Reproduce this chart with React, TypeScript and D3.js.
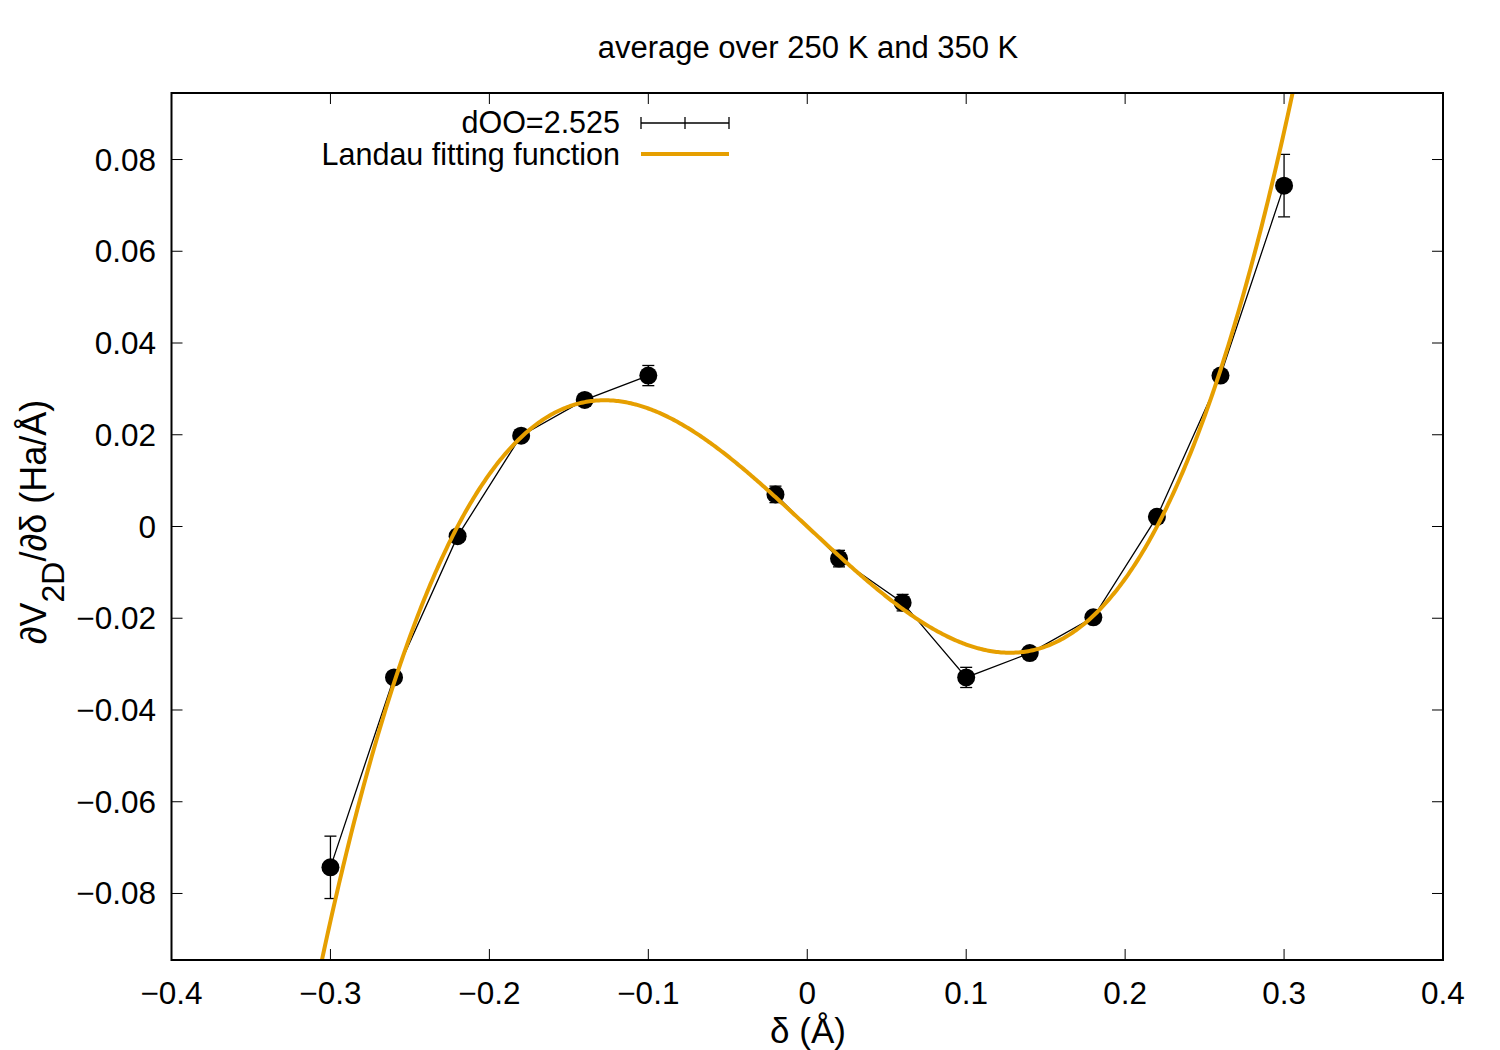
import React from "react";
import * as d3 from "d3";

const deltas = [-0.3, -0.26, -0.22, -0.18, -0.14, -0.1, -0.02, 0.02, 0.06, 0.1, 0.14, 0.18, 0.22, 0.26, 0.3];
const dVdd = [-0.0743, -0.0329, -0.0021, 0.0198, 0.0276, 0.0329, 0.007, -0.007, -0.0166, -0.0329, -0.0276, -0.0198, 0.0021, 0.0329, 0.0743];
const errs = [0.0068, 0.001, 0.001, 0.001, 0.001, 0.0022, 0.0018, 0.0018, 0.0018, 0.0022, 0.001, 0.001, 0.001, 0.001, 0.0068];
// segment index: data line is broken between -0.1 and -0.02 (missing -0.06 row)
const segment = [0, 0, 0, 0, 0, 0, 1, 1, 1, 1, 1, 1, 1, 1, 1];
// Landau fit: f(d) = A d + B d^3 + C d^5
const fitA = -0.323;
const fitB = 6.55;
const fitC = 2.5;
const xTicks = [-0.4, -0.3, -0.2, -0.1, 0, 0.1, 0.2, 0.3, 0.4];
const yTicks = [-0.08, -0.06, -0.04, -0.02, 0, 0.02, 0.04, 0.06, 0.08];
const titleText = "average over 250 K and 350 K";
const seriesLabel = "dOO=2.525";
const fitLabel = "Landau fitting function";

const W = 1500, H = 1050;
const L = 171.5, R = 1443, T = 93, B = 960;
const FONT = "'Liberation Sans', Arial, sans-serif";
const ORANGE = "#e69f00";

const fmt = (v: number) => {
  if (Math.abs(v) < 1e-12) return "0";
  const s = d3.format(".2~f")(Math.abs(v));
  return (v < 0 ? "\u2212" : "") + s;
};

export default function App() {
  const x = d3.scaleLinear().domain([-0.4, 0.4]).range([L, R]);
  const y = d3.scaleLinear().domain([-0.0945, 0.0945]).range([B, T]);
  const pts = deltas.map((d, i) => ({ d, v: dVdd[i], e: errs[i], s: segment[i] }));
  const lineGen = d3.line<{ d: number; v: number }>().x((p) => x(p.d)).y((p) => y(p.v));
  const segIds = Array.from(new Set(segment));
  const fit = (d: number) => fitA * d + fitB * d ** 3 + fitC * d ** 5;
  const samples = d3.range(-0.4, 0.4001, 0.001);
  const fitPath = d3.line<number>().x((d) => x(d)).y((d) => y(fit(d)))(samples) || "";
  const tick = 11;
  const fs = 31.5;
  const lfs = 31;
  const legFs = 30.5;
  return (
    <svg width={W} height={H} style={{ position: "absolute", left: 0, top: 0, background: "#fff" }} fontFamily={FONT}>
      <defs>
        <clipPath id="plotclip">
          <rect x={L} y={T} width={R - L} height={B - T} />
        </clipPath>
      </defs>
      <rect x={0} y={0} width={W} height={H} fill="#fff" />
      <text x={808} y={58} textAnchor="middle" fontSize={lfs}>{titleText}</text>
      {xTicks.map((t) => (
        <g key={"x" + t}>
          <line x1={x(t)} x2={x(t)} y1={B} y2={B - tick} stroke="#000" strokeWidth={1} />
          <line x1={x(t)} x2={x(t)} y1={T} y2={T + tick} stroke="#000" strokeWidth={1} />
          <text x={x(t)} y={1004} textAnchor="middle" fontSize={fs}>{fmt(t)}</text>
        </g>
      ))}
      {yTicks.map((t) => (
        <g key={"y" + t}>
          <line x1={L} x2={L + tick} y1={y(t)} y2={y(t)} stroke="#000" strokeWidth={1} />
          <line x1={R} x2={R - tick} y1={y(t)} y2={y(t)} stroke="#000" strokeWidth={1} />
          <text x={156} y={y(t) + 11} textAnchor="end" fontSize={fs}>{fmt(t)}</text>
        </g>
      ))}
      <g clipPath="url(#plotclip)">
        {segIds.map((sid) => (
          <path key={"seg" + sid} d={lineGen(pts.filter((p) => p.s === sid)) || ""} fill="none" stroke="#000" strokeWidth={1.3} />
        ))}
        {pts.map((p, i) => (
          <g key={i} stroke="#000" strokeWidth={1.3}>
            <line x1={x(p.d)} x2={x(p.d)} y1={y(p.v - p.e)} y2={y(p.v + p.e)} />
            <line x1={x(p.d) - 6} x2={x(p.d) + 6} y1={y(p.v - p.e)} y2={y(p.v - p.e)} />
            <line x1={x(p.d) - 6} x2={x(p.d) + 6} y1={y(p.v + p.e)} y2={y(p.v + p.e)} />
            <circle cx={x(p.d)} cy={y(p.v)} r={9} fill="#000" stroke="none" />
          </g>
        ))}
        <path d={fitPath} fill="none" stroke={ORANGE} strokeWidth={4} />
      </g>
      <text x={620} y={133} textAnchor="end" fontSize={legFs}>{seriesLabel}</text>
      <g stroke="#000" strokeWidth={1.3}>
        <line x1={641} x2={729} y1={123} y2={123} />
        <line x1={641} x2={641} y1={117} y2={129} />
        <line x1={729} x2={729} y1={117} y2={129} />
        <line x1={685} x2={685} y1={117} y2={129} />
      </g>
      <text x={620} y={165} textAnchor="end" fontSize={legFs}>{fitLabel}</text>
      <line x1={641} x2={729} y1={154} y2={154} stroke={ORANGE} strokeWidth={4} />
      <rect x={L} y={T} width={R - L} height={B - T} fill="none" stroke="#000" strokeWidth={2} />
      <text x={808} y={1043} textAnchor="middle" fontSize={35}>{"\u03b4 (\u00c5)"}</text>
      <text transform={`translate(46,522) rotate(-90)`} textAnchor="middle" fontSize={36}>
        {"\u2202V"}
        <tspan baselineShift="sub" fontSize={32}>2D</tspan>
        <tspan baselineShift="0">{"/\u2202\u03b4 (Ha/\u00c5)"}</tspan>
      </text>
    </svg>
  );
}
